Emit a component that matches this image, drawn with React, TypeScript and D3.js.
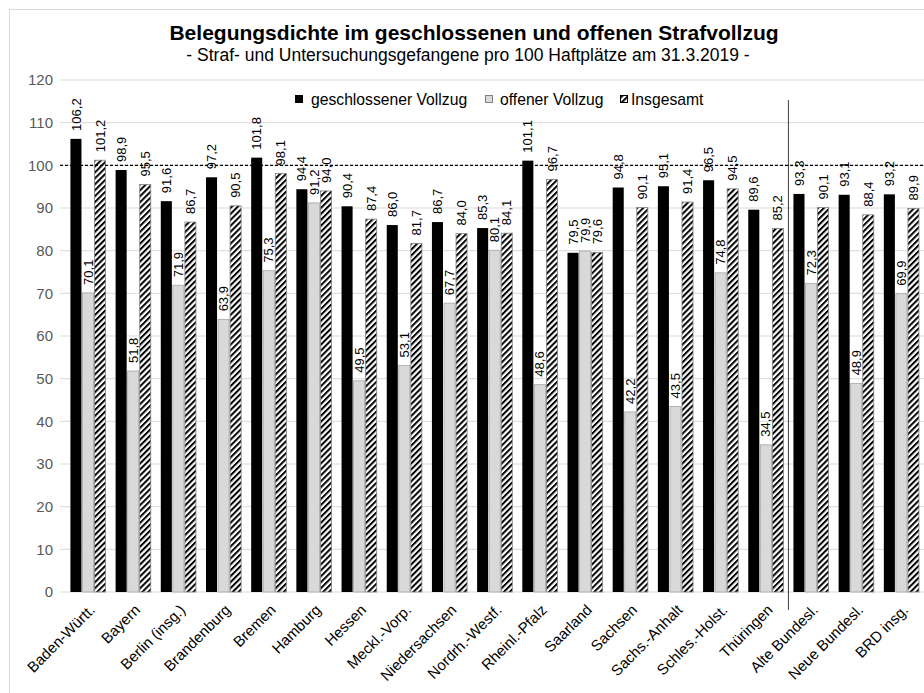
import React from "react";
import * as d3 from "d3";

const categories = [
  "Baden-Württ.", "Bayern", "Berlin (insg.)", "Brandenburg", "Bremen", "Hamburg",
  "Hessen", "Meckl.-Vorp.", "Niedersachsen", "Nordrh.-Westf.", "Rheinl.-Pfalz",
  "Saarland", "Sachsen", "Sachs.-Anhalt", "Schles.-Holst.", "Thüringen",
  "Alte Bundesl.", "Neue Bundesl.", "BRD insg.",
];
const geschlossen = [106.2, 98.9, 91.6, 97.2, 101.8, 94.4, 90.4, 86.0, 86.7, 85.3, 101.1, 79.5, 94.8, 95.1, 96.5, 89.6, 93.3, 93.1, 93.2];
const offen = [70.1, 51.8, 71.9, 63.9, 75.3, 91.2, 49.5, 53.1, 67.7, 80.1, 48.6, 79.9, 42.2, 43.5, 74.8, 34.5, 72.3, 48.9, 69.9];
const insgesamt = [101.2, 95.5, 86.7, 90.5, 98.1, 94.0, 87.4, 81.7, 84.0, 84.1, 96.7, 79.6, 90.1, 91.4, 94.5, 85.2, 90.1, 88.4, 89.9];
const seriesNames = ["geschlossener Vollzug", "offener Vollzug", "Insgesamt"];
const yTicks = [0, 10, 20, 30, 40, 50, 60, 70, 80, 90, 100, 110, 120];
const title = "Belegungsdichte im geschlossenen und offenen Strafvollzug";
const subtitle = "- Straf- und Untersuchungsgefangene pro 100 Haftplätze am 31.3.2019 -";

const W = 924;
const H = 693;
const FONT = "'Liberation Sans', Arial, sans-serif";

export default function App() {
  const x = d3.scaleBand<string>().domain(categories).range([65.4, 924]).paddingInner(0.2).paddingOuter(0.1);
  const x1 = d3.scaleBand<string>().domain(seriesNames).range([0, x.bandwidth()]);
  const y = d3.scaleLinear().domain([0, 120]).range([592, 80]);
  const fmt = (v: number) => d3.format(".1f")(v).replace(".", ",");
  const series = [geschlossen, offen, insgesamt];
  const fills = ["#000000", "#d9d9d9", "url(#hatch)"];
  const strokes = ["#000000", "#a6a6a6", "#808080"];
  const sepX = x("Alte Bundesl.")! - (x.step() * 0.2) / 2;

  return (
    <svg width={W} height={H} style={{ position: "absolute", left: 0, top: 0, background: "#fff" }} fontFamily={FONT}>
      <defs>
        <pattern id="hatch" patternUnits="userSpaceOnUse" width={4.2} height={4.2} patternTransform="rotate(45)">
          <rect width={4.2} height={4.2} fill="#fff" />
          <line x1={1} y1={0} x2={1} y2={4.2} stroke="#000" strokeWidth={2} />
        </pattern>
      </defs>
      <rect x={0} y={0} width={W} height={H} fill="#fff" />
      <rect x={9.5} y={9.5} width={W + 20} height={H + 20} fill="none" stroke="#d9d9d9" />
      <text x={474} y={40} textAnchor="middle" fontSize={21} fontWeight="bold" fill="#000">{title}</text>
      <text x={468} y={61} textAnchor="middle" fontSize={17.5} fill="#000">{subtitle}</text>

      {yTicks.map((t) => (
        <g key={t}>
          <line x1={60} x2={924} y1={y(t)} y2={y(t)} stroke="#d9d9d9" strokeWidth={1} />
          <text x={53} y={y(t)} dy="0.35em" textAnchor="end" fontSize={15} fill="#595959">{t}</text>
        </g>
      ))}

      {categories.map((c, i) => (
        <g key={c} transform={`translate(${x(c)},0)`}>
          {series.map((s, k) => (
            <rect key={k} x={x1(seriesNames[k])! + 0.5} y={y(s[i])} width={x1.bandwidth() - 1} height={y(0) - y(s[i])}
              fill={fills[k]} stroke={strokes[k]} strokeWidth={k === 0 ? 0 : 0.8} />
          ))}
        </g>
      ))}

      <line x1={60} x2={924} y1={y(100)} y2={y(100)} stroke="#000" strokeWidth={1.3} strokeDasharray="3,2" />
      <line x1={sepX} x2={sepX} y1={100} y2={610} stroke="#404040" strokeWidth={1} />

      {categories.map((c, i) => (
        <g key={c + "l"} transform={`translate(${x(c)},0)`}>
          {series.map((s, k) => {
            const cx = x1(seriesNames[k])! + x1.bandwidth() / 2;
            const ty = y(s[i]) - 8;
            return (
              <text key={k} transform={`translate(${cx},${ty}) rotate(-90)`} dy="0.35em" fontSize={13} fill="#000">{fmt(s[i])}</text>
            );
          })}
        </g>
      ))}

      {categories.map((c) => (
        <text key={c + "x"} transform={`translate(${x(c)! + x.bandwidth() / 2 + 1},604) rotate(-45)`} dy="0.65em" textAnchor="end" fontSize={15} fill="#000">{c}</text>
      ))}

      <g transform="translate(0,99)">
        <rect x={295} y={-4} width={8} height={8} fill="#000" />
        <text x={311} y={0} dy="0.35em" fontSize={15.7} fill="#000">{seriesNames[0]}</text>
        <rect x={485.5} y={-3.5} width={7} height={7} fill="#d9d9d9" stroke="#808080" />
        <text x={500} y={0} dy="0.35em" fontSize={15.7} fill="#000">{seriesNames[1]}</text>
        <rect x={620.5} y={-3.5} width={7} height={7} fill="url(#hatch)" stroke="#000" />
        <text x={631} y={0} dy="0.35em" fontSize={15.7} fill="#000">{seriesNames[2]}</text>
      </g>
    </svg>
  );
}
